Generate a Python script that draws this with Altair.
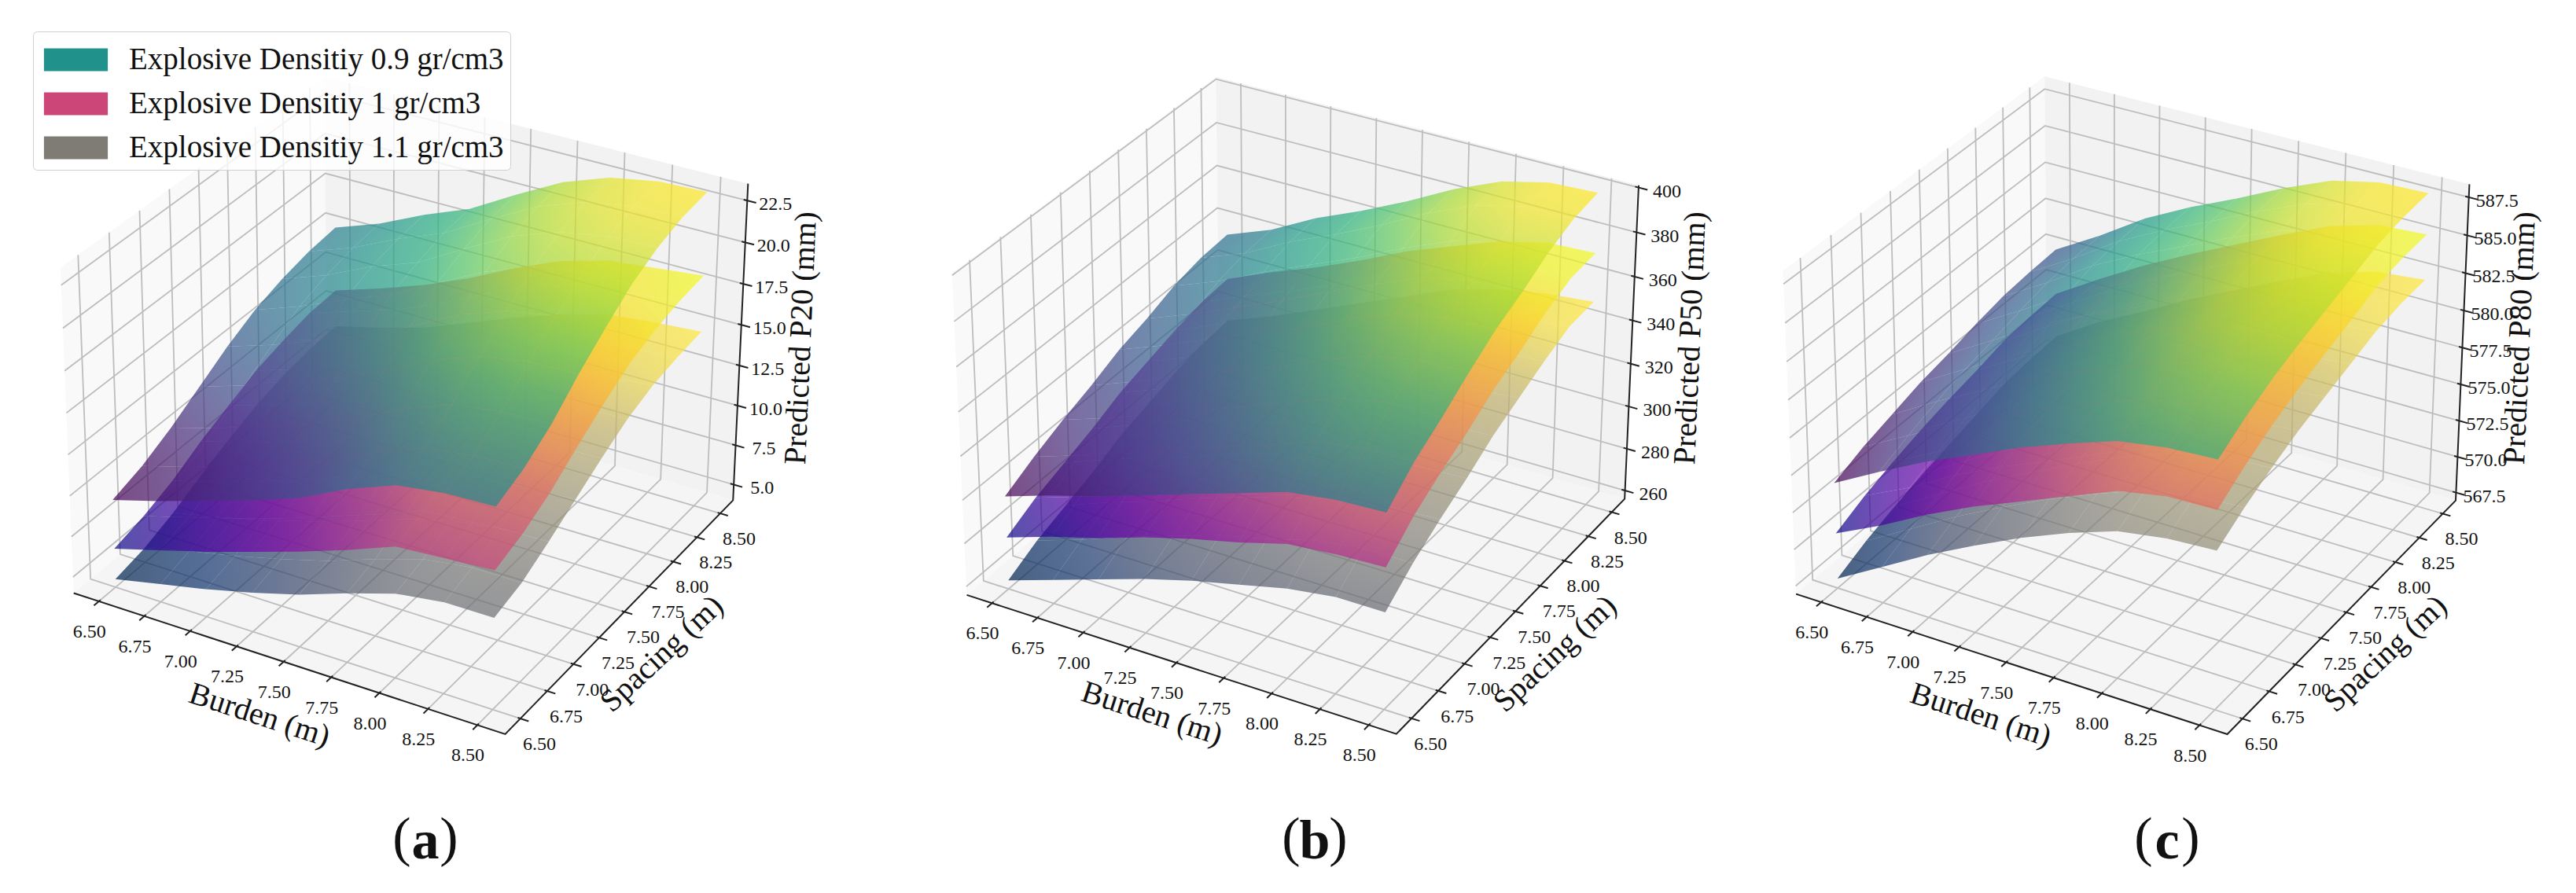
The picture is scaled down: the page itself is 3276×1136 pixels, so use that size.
import numpy as np
import pandas as pd
import altair as alt

# ---------- values ----------
BURDEN_TICKS = [6.5, 6.75, 7.0, 7.25, 7.5, 7.75, 8.0, 8.25, 8.5]
SPACING_TICKS = [6.5, 6.75, 7.0, 7.25, 7.5, 7.75, 8.0, 8.25, 8.5]
XY_LIMITS = (6.36, 8.64)

P20_TICKS = [5.0, 7.5, 10.0, 12.5, 15.0, 17.5, 20.0, 22.5]
P50_TICKS = [260, 280, 300, 320, 340, 360, 380, 400]
P80_TICKS = [567.5, 570.0, 572.5, 575.0, 577.5, 580.0, 582.5, 585.0, 587.5]

DENSITY_LABELS = ["Explosive Densitiy 0.9 gr/cm3", "Explosive Densitiy 1 gr/cm3", "Explosive Densitiy 1.1 gr/cm3"]
DENSITY_SWATCH = ["#21918c", "#cc4778", "#7f7c75"]

# rows: Spacing 6.5 .. 8.5, columns: Burden 6.5 .. 8.5
P20_D09 = [
 [9.4,10.2,11.1,12.0,13.0,14.4,15.5,15.9,16.0],
 [10.0,10.8,11.7,12.7,13.7,15.1,16.2,16.6,16.7],
 [10.9,11.7,12.7,13.7,14.8,16.2,17.3,17.7,17.8],
 [12.0,12.9,14.0,15.0,16.2,17.7,18.7,19.2,19.3],
 [13.1,14.0,15.1,16.2,17.5,19.0,20.0,20.5,20.6],
 [14.0,15.0,16.2,17.3,18.8,20.2,21.3,21.7,21.8],
 [14.6,15.6,16.9,17.9,19.5,21.0,22.0,22.5,22.6],
 [15.0,16.0,17.3,18.4,20.0,21.5,22.5,23.0,23.1],
 [15.2,16.2,17.5,18.6,20.2,21.7,22.7,23.2,23.3]]
P20_D10 = [
 [6.4,7.2,8.0,8.9,9.8,10.8,11.9,12.1,12.3],
 [6.9,7.7,8.5,9.4,10.4,11.4,12.5,12.7,12.9],
 [7.6,8.4,9.3,10.3,11.3,12.3,13.4,13.6,13.8],
 [8.6,9.4,10.3,11.3,12.5,13.5,14.5,14.8,15.0],
 [9.4,10.3,11.2,12.3,13.5,14.6,15.6,15.8,16.1],
 [10.2,11.1,12.1,13.2,14.5,15.7,16.5,16.8,17.1],
 [10.7,11.6,12.6,13.8,15.1,16.3,17.1,17.4,17.7],
 [11.1,12.0,12.9,14.1,15.5,16.7,17.5,17.8,18.1],
 [11.2,12.1,13.1,14.3,15.7,16.9,17.7,18.0,18.3]]
P20_D11 = [
 [4.5,5.1,5.7,6.4,7.2,8.2,9.1,9.5,9.5],
 [4.9,5.6,6.2,6.9,7.7,8.7,9.6,10.0,10.0],
 [5.6,6.2,6.9,7.7,8.6,9.6,10.4,10.8,10.9],
 [6.5,7.1,7.8,8.7,9.6,10.6,11.5,11.8,11.9],
 [7.3,7.9,8.7,9.6,10.6,11.6,12.4,12.8,12.9],
 [8.0,8.7,9.5,10.5,11.5,12.5,13.3,13.7,13.8],
 [8.5,9.2,9.9,11.0,12.1,13.1,13.9,14.2,14.4],
 [8.8,9.5,10.3,11.3,12.4,13.4,14.2,14.5,14.7],
 [8.9,9.6,10.4,11.5,12.6,13.6,14.4,14.7,14.9]]

P50_D09 = [
 [299,306,312,319,326,333,340,343,344],
 [306,313,321,328,336,343,351,354,355],
 [312,319,327,335,343,351,359,363,363],
 [317,325,334,342,350,359,367,371,372],
 [323,331,340,348,357,367,375,379,380],
 [327,335,344,353,363,372,381,385,386],
 [332,340,350,359,368,378,387,392,393],
 [335,343,354,363,373,384,393,398,398],
 [336,344,355,364,374,385,394,399,400]]
P50_D10 = [
 [280,287,293,300,306,311,317,319,320],
 [287,294,301,308,315,321,327,330,331],
 [292,300,307,314,322,328,335,338,339],
 [297,305,313,320,328,335,342,345,346],
 [303,311,318,327,335,342,349,353,354],
 [307,315,323,331,340,347,355,359,360],
 [311,320,327,336,346,353,361,366,367],
 [314,323,331,340,350,358,366,371,372],
 [315,324,332,341,351,359,367,372,373]]
P50_D11 = [
 [260,267,274,281,287,292,297,300,300],
 [267,274,282,289,296,301,307,310,310],
 [272,280,287,295,302,308,314,317,318],
 [277,285,293,301,308,315,321,324,325],
 [283,290,299,307,315,322,328,332,333],
 [287,294,303,311,320,328,333,337,339],
 [291,299,307,316,325,333,339,343,345],
 [294,302,311,320,329,338,344,348,350],
 [295,303,312,321,330,339,345,349,351]]

P80_D09 = [
 [574.1,575.8,577.4,578.8,580.2,581.4,582.5,583.0,583.2],
 [574.9,576.6,578.3,579.7,581.1,582.4,583.6,584.1,584.3],
 [575.5,577.3,579.0,580.5,581.9,583.2,584.4,585.0,585.2],
 [576.1,577.9,579.7,581.2,582.6,584.0,585.2,585.8,585.9],
 [576.5,578.3,580.2,581.7,583.1,584.5,585.8,586.4,586.5],
 [577.0,578.8,580.7,582.2,583.6,585.1,586.3,587.0,587.1],
 [577.4,579.2,581.2,582.8,584.2,585.6,586.9,587.6,587.7],
 [577.6,579.4,581.4,583.0,584.4,585.9,587.2,587.9,588.0],
 [577.7,579.5,581.5,583.1,584.5,586.0,587.3,588.0,588.1]]
P80_D10 = [
 [570.7,572.2,573.9,575.4,576.7,578.0,579.3,579.9,580.0],
 [571.6,573.1,574.9,576.4,577.7,579.1,580.4,581.1,581.2],
 [572.3,573.9,575.7,577.2,578.6,580.0,581.3,582.0,582.2],
 [572.9,574.6,576.4,577.9,579.3,580.7,582.1,582.9,583.0],
 [573.4,575.1,576.9,578.5,579.9,581.3,582.7,583.5,583.7],
 [573.8,575.6,577.4,579.0,580.5,581.9,583.3,584.1,584.3],
 [574.3,576.2,578.0,579.5,581.0,582.5,583.9,584.8,585.0],
 [574.5,576.4,578.2,579.8,581.3,582.8,584.2,585.1,585.3],
 [574.6,576.5,578.3,579.9,581.4,582.9,584.3,585.2,585.4]]
P80_D11 = [
 [567.6,569.4,571.2,572.8,574.3,575.6,576.7,577.2,577.4],
 [568.5,570.3,572.1,573.7,575.2,576.5,577.7,578.3,578.5],
 [569.2,571.0,572.8,574.4,575.9,577.3,578.5,579.2,579.4],
 [569.8,571.7,573.4,575.0,576.5,578.0,579.2,579.9,580.2],
 [570.3,572.2,573.9,575.5,577.0,578.5,579.8,580.5,580.8],
 [570.8,572.7,574.3,576.0,577.5,579.0,580.3,581.1,581.4],
 [571.3,573.2,574.8,576.5,578.0,579.5,580.8,581.7,582.0],
 [571.5,573.4,575.0,576.7,578.2,579.7,581.1,582.0,582.3],
 [571.6,573.5,575.1,576.8,578.3,579.8,581.2,582.1,582.4]]

VIRIDIS = ["#440154","#472d7b","#3b528b","#2c728e","#21918c","#28ae80","#5ec962","#addc30","#fde725"]
PLASMA = ["#0d0887","#4c02a1","#7e03a8","#a82296","#cc4778","#e56b5d","#f89441","#fdc328","#f0f921"]
CIVIDIS = ["#00224e","#123570","#3b496c","#575d6d","#707173","#8a8678","#a59c74","#c3b369","#fee838"]

# 3D box corners as seen in the picture (the camera of each panel)
CUBE = [(0,0,0),(1,0,0),(1,1,0),(0,1,0),(0,0,1),(0,1,1),(1,1,1)]
PANELS = [
 dict(cam=[(95,755),(642,934),(933,636),(414,486),(76,340),(414,98),(951,234)],
      zlim=(4.0,23.5), ticks=P20_TICKS, fmt="{:.1f}", title="Predicted P20 (mm)", surfaces=[P20_D11,P20_D10,P20_D09],
      burden=(330,910), spacing=(842,832), zpos=(1019,430), letter="a", cx=541),
 dict(cam=[(1229,755),(1777,934),(2066,635),(1550,486),(1210,349),(1548,97),(2083,235)],
      zlim=(256,401), ticks=P50_TICKS, fmt="{:.0f}", title="Predicted P50 (mm)", surfaces=[P50_D11,P50_D10,P50_D09],
      burden=(1465,908), spacing=(1978,832), zpos=(2150,430), letter="b", cx=1672),
 dict(cam=[(2284,755),(2833,934),(3123,637),(2603,486),(2267,345),(2601,97),(3140,234)],
      zlim=(566.95,588.35), ticks=P80_TICKS, fmt="{:.1f}", title="Predicted P80 (mm)", surfaces=[P80_D11,P80_D10,P80_D09],
      burden=(2519,910), spacing=(3034,832), zpos=(3205,430), letter="c", cx=2756),
]
MAPS = [CIVIDIS, PLASMA, VIRIDIS]
FONT = "Liberation Serif"
MARGIN = 8

def camera(points):
    rows = []
    for (X, Y, Z), (u, v) in zip(CUBE, points):
        rows.append([X, Y, Z, 1, 0, 0, 0, 0, -u*X, -u*Y, -u*Z, -u])
        rows.append([0, 0, 0, 0, X, Y, Z, 1, -v*X, -v*Y, -v*Z, -v])
    return np.linalg.svd(np.array(rows, float))[2][-1].reshape(3, 4)

def project(P, x, y, z):
    h = P @ np.array([x, y, z, 1.0])
    return [round(h[0]/h[2]-MARGIN, 2), round(h[1]/h[2]-MARGIN, 2)]

def hex2rgb(c):
    return np.array([int(c[i:i+2], 16) for i in (1, 3, 5)], float)

def cmap(stops, t):
    t = min(max(t, 0.0), 1.0)*(len(stops)-1)
    i = min(int(t), len(stops)-2)
    f = t-i
    r = hex2rgb(stops[i])*(1-f)+hex2rgb(stops[i+1])*f
    return "#%02x%02x%02x" % tuple(int(round(a)) for a in r)

def gradient(pts, ts, stops):
    pts = np.array(pts, float)
    lo, hi = pts.min(0), pts.max(0)
    n = (pts-lo)/np.maximum(hi-lo, 1e-6)
    a, b, c = np.linalg.lstsq(np.c_[n, np.ones(4)], np.array(ts), rcond=None)[0]
    g = float(np.hypot(a, b))
    if g < 1e-6:
        return {"gradient": "linear", "x1": 0, "y1": 0, "x2": 1, "y2": 0,
                "stops": [{"offset": 0, "color": cmap(stops, c)}, {"offset": 1, "color": cmap(stops, c)}]}
    d = np.array([a, b])/g
    s = n @ d
    s0, s1 = float(s.min()), float(s.max())
    return {"gradient": "linear",
            "x1": round(d[0]*s0, 4), "y1": round(d[1]*s0, 4), "x2": round(d[0]*s1, 4), "y2": round(d[1]*s1, 4),
            "stops": [{"offset": o, "color": cmap(stops, c+g*(s0+(s1-s0)*o))} for o in (0, 0.5, 1)]}

def collection(features):
    return alt.InlineData(values={"type": "FeatureCollection", "features": features},
                          format=alt.DataFormat(property="features", type="json"))

def feature(kind, coords, **props):
    return {"type": "Feature", "properties": props, "geometry": {"type": kind, "coordinates": coords}}

def ux(v):
    return (v-XY_LIMITS[0])/(XY_LIMITS[1]-XY_LIMITS[0])

PROJ = dict(type="identity", scale=1, translate=[0, 0])

walls, grid, cells, axes, ticks = [], [], [], [], []
labels, titles = [], []
for p in PANELS:
    P = camera(p["cam"])
    z0, z1 = p["zlim"]
    uz = lambda v: (v-z0)/(z1-z0)
    for quad, col in (([(0,0,0),(0,1,0),(0,1,1),(0,0,1)], "#f9f9f9"),
                      ([(0,1,0),(1,1,0),(1,1,1),(0,1,1)], "#f2f2f2"),
                      ([(0,0,0),(1,0,0),(1,1,0),(0,1,0)], "#f5f5f5")):
        ring = [project(P, *q) for q in quad]
        walls.append(feature("Polygon", [ring+[ring[0]]], col=col))
    for b in BURDEN_TICKS:
        u = ux(b)
        grid.append(feature("LineString", [project(P,u,0,0), project(P,u,1,0), project(P,u,1,1)]))
        ticks.append(feature("LineString", [project(P,u,0.006,0), project(P,u,-0.018,0)]))
        x, y = project(P,u,0,0)
        labels.append(dict(x=x-12, y=y+39, t="%.2f" % b))
    for s in SPACING_TICKS:
        v = ux(s)
        grid.append(feature("LineString", [project(P,1,v,0), project(P,0,v,0), project(P,0,v,1)]))
        ticks.append(feature("LineString", [project(P,0.994,v,0), project(P,1.018,v,0)]))
        x, y = project(P,1,v,0)
        labels.append(dict(x=x+24, y=y+33, t="%.2f" % s))
    for t in p["ticks"]:
        w = uz(t)
        grid.append(feature("LineString", [project(P,0,0,w), project(P,0,1,w), project(P,1,1,w)]))
        ticks.append(feature("LineString", [project(P,0.992,1,w), project(P,1.02,1,w)]))
        x, y = project(P,1,1,w)
        labels.append(dict(x=x+36, y=y+5, t=p["fmt"].format(t)))
    axes.append(feature("LineString", [project(P,0,0,0), project(P,1,0,0), project(P,1,1,0), project(P,1,1,1)]))
    for table, stops in zip(p["surfaces"], MAPS):
        Z = np.array(table, float)
        lo, hi = Z.min(), Z.max()
        for i in range(Z.shape[0]-1):
            for j in range(Z.shape[1]-1):
                idx = [(i,j),(i,j+1),(i+1,j+1),(i+1,j)]
                ring = [project(P, ux(BURDEN_TICKS[c]), ux(SPACING_TICKS[r]), uz(Z[r,c])) for r,c in idx]
                ts = [(Z[r,c]-lo)/(hi-lo) for r,c in idx]
                cells.append(feature("Polygon", [ring+[ring[0]]], grad=gradient(ring, ts, stops)))
    titles.append(dict(x=p["burden"][0]-MARGIN, y=p["burden"][1]-MARGIN, t="Burden (m)", a=18))
    titles.append(dict(x=p["spacing"][0]-MARGIN, y=p["spacing"][1]-MARGIN, t="Spacing (m)", a=317))
    titles.append(dict(x=p["zpos"][0]-MARGIN, y=p["zpos"][1]-MARGIN, t=p["title"], a=272.5))

captions = [dict(x=p["cx"]-MARGIN, y=1071-MARGIN, t=p["letter"]) for p in PANELS]
parens = []
for p in PANELS:
    parens.append(dict(x=p["cx"]-30-MARGIN, y=1067-MARGIN, t="("))
    parens.append(dict(x=p["cx"]+30-MARGIN, y=1067-MARGIN, t=")"))

def pos(df_like, **mark):
    return alt.Chart(pd.DataFrame(df_like)).mark_text(font=FONT, color="#111111", baseline="middle", align="center", **mark)

XY = dict(x=alt.X("x:Q", scale=None, axis=None), y=alt.Y("y:Q", scale=None, axis=None))

layers = [
    alt.Chart(collection(walls)).mark_geoshape(strokeWidth=0).encode(
        fill=alt.Fill("properties.col:N", scale=None, legend=None)).project(**PROJ),
    alt.Chart(collection(grid)).mark_geoshape(filled=False, stroke="#bdbdbd", strokeWidth=1.8).project(**PROJ),
    alt.Chart(collection(cells)).mark_geoshape(fillOpacity=0.7, strokeWidth=0).encode(
        fill=alt.Fill("properties.grad:N", scale=None, legend=None)).project(**PROJ),
    alt.Chart(collection(axes)).mark_geoshape(filled=False, stroke="#222222", strokeWidth=2).project(**PROJ),
    alt.Chart(collection(ticks)).mark_geoshape(filled=False, stroke="#222222", strokeWidth=2).project(**PROJ),
    pos(labels, fontSize=24).encode(text="t:N", **XY),
    alt.Chart(pd.DataFrame(titles)).mark_text(font=FONT, color="#111111", baseline="middle", align="center", fontSize=40).encode(
        text="t:N", angle=alt.Angle("a:Q", scale=None), **XY),
    pos(captions, fontSize=70, fontWeight="bold").encode(text="t:N", **XY),
    pos(parens, fontSize=70).encode(text="t:N", **XY),
    alt.Chart(pd.DataFrame({"density": DENSITY_LABELS, "x": [-50]*3, "y": [-50]*3})).mark_square(opacity=0).encode(
        color=alt.Color("density:N", sort=None,
            scale=alt.Scale(domain=DENSITY_LABELS, range=DENSITY_SWATCH),
            legend=alt.Legend(orient="none", legendX=34, legendY=32, title=None, direction="vertical",
                symbolType="M-1.45,-0.52H1.45V0.52H-1.45Z", symbolSize=3136, symbolOpacity=1, symbolStrokeWidth=0,
                symbolOffset=18.5, labelOffset=39.5, labelFont=FONT, labelFontSize=39, labelColor="#111111",
                labelLimit=600, rowPadding=8, padding=8, fillColor="rgba(255,255,255,0.8)",
                strokeColor="#d0d0d0", cornerRadius=5, zindex=1)),
        **XY),
]

chart = alt.layer(*layers).properties(width=3260, height=1118, padding=0, autosize="none").configure_view(stroke=None)
chart.save("out.html", embed_options={"renderer": "svg", "actions": False})
